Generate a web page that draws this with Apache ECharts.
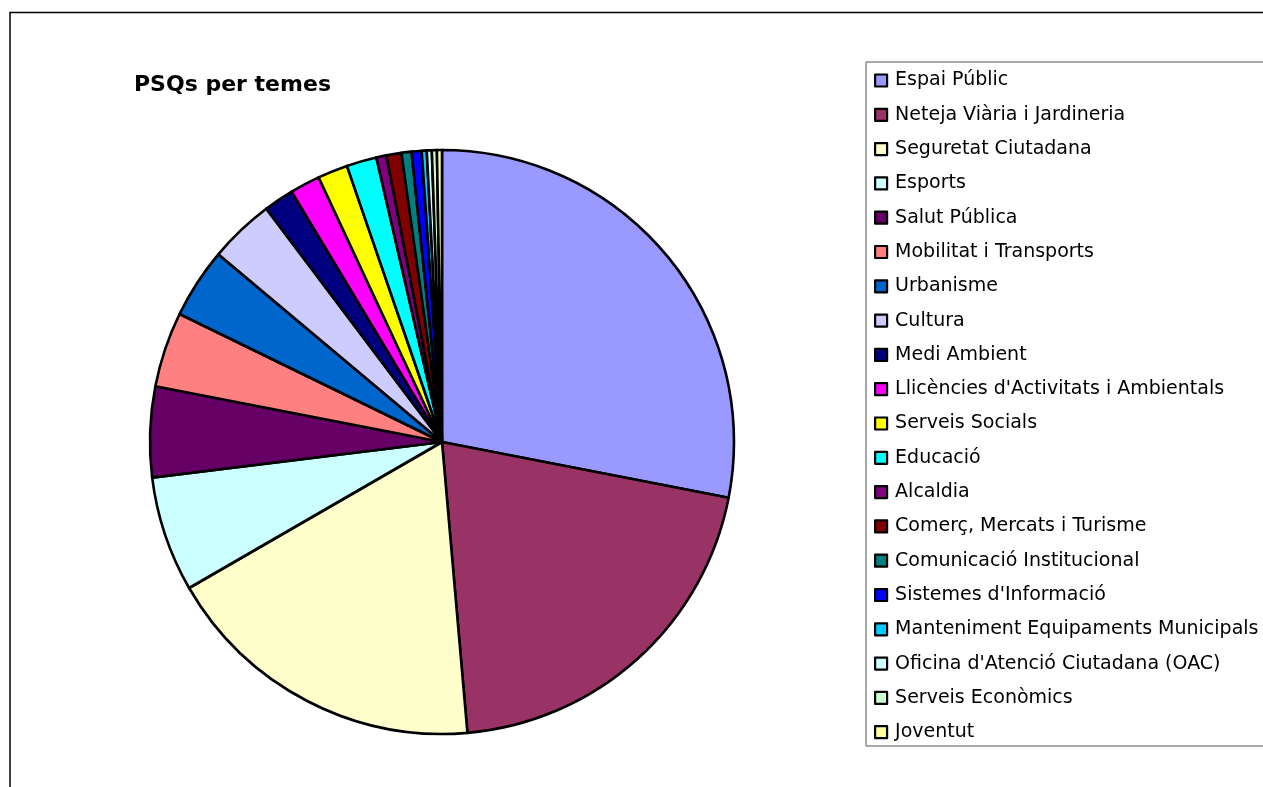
<!DOCTYPE html>
<html>
<head>
<meta charset="utf-8">
<title>PSQs per temes</title>
<script src="https://cdn.jsdelivr.net/npm/echarts@6/dist/echarts.min.js"></script>
<style>
  html, body { margin: 0; padding: 0; background: #ffffff; }
  #chart { width: 1263px; height: 787px; }
</style>
</head>
<body>
<div id="chart"></div>
<script>
// Topics (temes) of the PSQs, in drawing order
const categories = [
  'Espai Públic',
  'Neteja Viària i Jardineria',
  'Seguretat Ciutadana',
  'Esports',
  'Salut Pública',
  'Mobilitat i Transports',
  'Urbanisme',
  'Cultura',
  'Medi Ambient',
  "Llicències d'Activitats i Ambientals",
  'Serveis Socials',
  'Educació',
  'Alcaldia',
  'Comerç, Mercats i Turisme',
  'Comunicació Institucional',
  "Sistemes d'Informació",
  'Manteniment Equipaments Municipals',
  "Oficina d'Atenció Ciutadana (OAC)",
  'Serveis Econòmics',
  'Joventut'
];

// Number of PSQs per topic
const values = [101, 74, 65, 23, 18, 15, 14, 13, 6, 6, 6, 6, 2, 3, 2, 2, 1, 1, 1, 1];

// Slice fill per topic
const colors = [
  '#9999FF', '#993366', '#FFFFCC', '#CCFFFF', '#660066',
  '#FF8080', '#0066CC', '#CCCCFF', '#000080', '#FF00FF',
  '#FFFF00', '#00FFFF', '#800080', '#800000', '#008080',
  '#0000FF', '#00CCFF', '#CCFFFF', '#CCFFCC', '#FFFF99'
];

const chartTitle = 'PSQs per temes';

const chart = echarts.init(document.getElementById('chart'), null, { renderer: 'canvas' });

const seriesData = categories.map((name, i) => ({
  name: name,
  value: values[i],
  itemStyle: { color: colors[i] }
}));

chart.setOption({
  animation: false,
  backgroundColor: '#ffffff',
  title: {
    text: chartTitle,
    left: 134,
    top: 74,
    padding: 0,
    textStyle: {
      fontFamily: 'DejaVu Sans',
      fontWeight: 'bold',
      fontSize: 22,
      color: '#000000'
    }
  },
  graphic: [
    {
      type: 'rect',
      silent: true,
      shape: { x: 10, y: 12.5, width: 1400, height: 900 },
      style: { fill: 'none', stroke: '#000000', lineWidth: 1.5 }
    }
  ],
  legend: {
    orient: 'vertical',
    left: 866,
    top: 62,
    padding: [8.5, 40, 3.8, 8],
    itemGap: 14.3,
    itemWidth: 12,
    itemHeight: 12,
    icon: 'rect',
    selectedMode: false,
    backgroundColor: '#ffffff',
    borderColor: '#555555',
    borderWidth: 1,
    borderRadius: 0,
    itemStyle: { borderColor: '#000000', borderWidth: 2.2 },
    textStyle: {
      fontFamily: 'DejaVu Sans',
      fontSize: 19,
      lineHeight: 20,
      color: '#000000',
      padding: [0, 0, 0, 3]
    },
    data: categories
  },
  series: [
    {
      type: 'pie',
      center: [442, 442],
      radius: 292,
      startAngle: 90,
      clockwise: true,
      silent: true,
      label: { show: false },
      labelLine: { show: false },
      emphasis: { disabled: true },
      itemStyle: { borderColor: '#000000', borderWidth: 2.6 },
      data: seriesData
    }
  ]
});
</script>
</body>
</html>
